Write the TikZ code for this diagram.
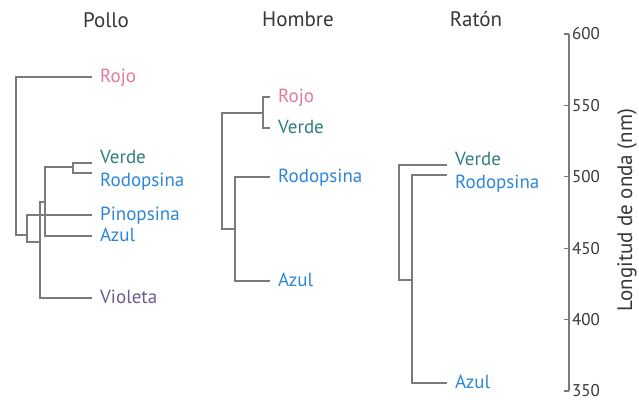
\documentclass[tikz,border=0pt]{standalone}
\usepackage{fontspec}
\setmainfont{PT Sans}
\usetikzlibrary{positioning}
\definecolor{rojo}{RGB}{227,121,159}
\definecolor{verde}{RGB}{46,127,122}
\definecolor{azul}{RGB}{45,134,216}
\definecolor{violeta}{RGB}{110,90,142}
\definecolor{rama}{RGB}{120,124,124}
\definecolor{gristexto}{RGB}{55,55,55}

\begin{document}
\begin{tikzpicture}[x=1pt, y=-1pt,
        hoja/.style={anchor=west, inner xsep=8pt, inner ysep=0pt, text height=1.15em, text depth=.05em, font=\fontsize{19}{22}\selectfont},
        titulo/.style={text=gristexto, font=\fontsize{21}{24}\selectfont},
        rama/.style={draw=rama, line width=1.3pt},
        marca/.style={anchor=west, inner xsep=3pt, inner ysep=0pt, text=gristexto, font=\fontsize{17}{19}\selectfont}
    ]
    \useasboundingbox (0,0) rectangle (639,401);

    % Pollo
    \node[titulo] (pollo) at (106,20) {Pollo};
    \node[hoja, text=rojo] (p-rojo) at (92,77) {Rojo};
    \node[hoja, text=verde] (p-verde) at (92,158) {Verde};
    \node[hoja, text=azul] (p-rodo) at (92,181) {Rodopsina};
    \node[hoja, text=azul] (p-pino) at (92,215) {Pinopsina};
    \node[hoja, text=azul] (p-azul) at (92,236) {Azul};
    \node[hoja, text=violeta] (p-violeta) at (92,298) {Violeta};
    \coordinate (p0) at (16,235);
    \coordinate (p1) at (27,235);
    \coordinate (p2) at (40,242);
    \coordinate (p3) at (45,202);
    \coordinate (p4) at (73,167);
    \draw[rama] (p-rojo.west) -| (p0) -- (p1);
    \draw[rama] (p-pino.west) -| (p1) |- (p2);
    \draw[rama] (p3) -| (p2) |- (p-violeta.west);
    \draw[rama] (p4) -| (p3) |- (p-azul.west);
    \draw[rama] ([yshift=-5pt]p-verde.west) -| (p4) |- ([yshift=8pt]p-rodo.west);

    % Hombre
    \node[titulo] (hombre) at (298,19) {Hombre};
    \node[hoja, text=rojo] (h-rojo) at (270,97) {Rojo};
    \node[hoja, text=verde] (h-verde) at (270,128) {Verde};
    \node[hoja, text=azul] (h-rodo) at (270,177) {Rodopsina};
    \node[hoja, text=azul] (h-azul) at (270,281) {Azul};
    \coordinate (h0) at (222,229);
    \coordinate (h1) at (263,113);
    \coordinate (h2) at (235,229);
    \draw[rama] (h1) -| (h0) -- (h2);
    \draw[rama] (h-rojo.west) -| (h1) |- (h-verde.west);
    \draw[rama] (h-rodo.west) -| (h2) |- (h-azul.west);

    % Raton
    \node[titulo] (raton) at (476,19) {Ratón};
    \node[hoja, text=verde] (r-verde) at (447,160) {Verde};
    \node[hoja, text=azul] (r-rodo) at (447,183) {Rodopsina};
    \node[hoja, text=azul] (r-azul) at (447,383) {Azul};
    \coordinate (r0) at (399,280);
    \coordinate (r1) at (412,280);
    \draw[rama] ([yshift=-5pt]r-verde.west) -| (r0) -- (r1);
    \draw[rama] ([yshift=8pt]r-rodo.west) -| (r1) |- (r-azul.west);

    % eje de longitud de onda
    \coordinate (eje-arriba) at (569,34);
    \coordinate (eje-abajo) at (569,391);
    \draw[rama] (eje-arriba) -- (eje-abajo);
    \foreach \v in {600,550,...,350} {
        \pgfmathsetmacro{\yv}{34+(600-\v)*1.428}
        \draw[rama] (564,\yv) -- (569,\yv);
        \node[marca] (m\v) at (569,\yv) {\v};
    }
    \node[titulo, rotate=90] (eje) at (627,210) {Longitud de onda (nm)};
\end{tikzpicture}
\end{document}
